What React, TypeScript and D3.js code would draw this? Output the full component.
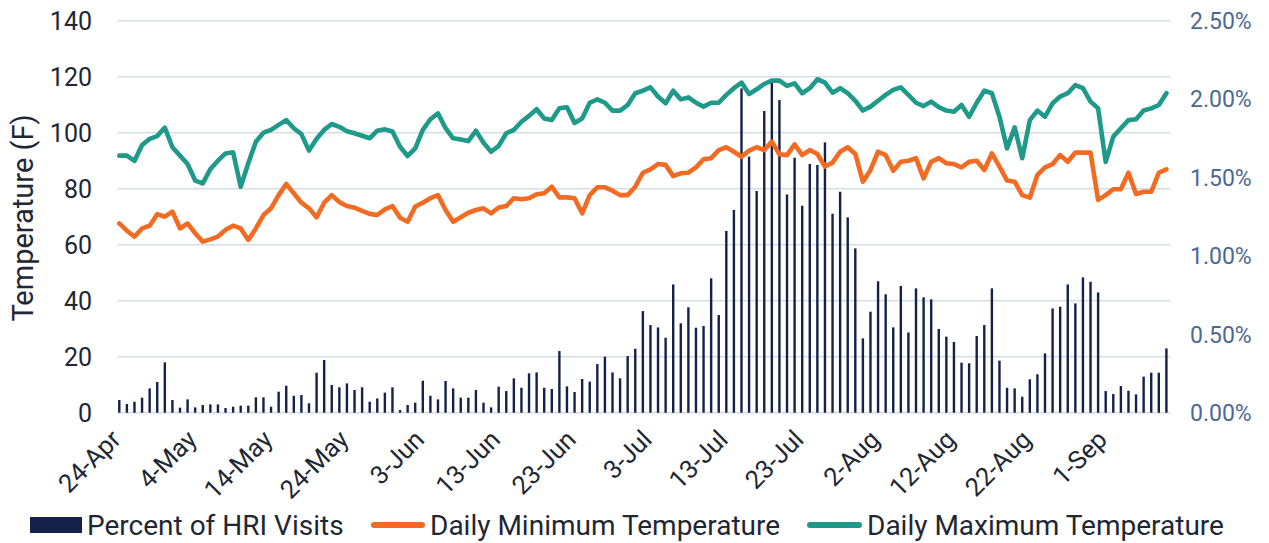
import React from "react";
import * as d3 from "d3";

// ---- DATA ----
const startDate = new Date(2023, 3, 24); // 24-Apr
const hriPct = [
  0.081, 0.055, 0.07, 0.096, 0.155, 0.196, 0.321, 0.081, 0.032, 0.085, 0.034, 0.049, 0.053, 0.053, 0.03,
  0.038, 0.045, 0.045, 0.098, 0.098, 0.038, 0.134, 0.172, 0.108, 0.113, 0.06, 0.255, 0.336, 0.177, 0.162,
  0.187, 0.145, 0.162, 0.07, 0.091, 0.128, 0.162, 0.017, 0.049, 0.064, 0.204, 0.108, 0.085, 0.202, 0.155,
  0.096, 0.096, 0.145, 0.064, 0.034, 0.166, 0.138, 0.219, 0.159, 0.251, 0.257, 0.159, 0.151, 0.393, 0.168,
  0.132, 0.215, 0.198, 0.31, 0.357, 0.257, 0.219, 0.361, 0.408, 0.648, 0.559, 0.544, 0.478, 0.818, 0.57,
  0.672, 0.542, 0.553, 0.857, 0.623, 1.159, 1.293, 2.068, 1.633, 1.414, 1.924, 2.105, 1.994, 1.392, 1.626,
  1.32, 1.586, 1.58, 1.724, 1.269, 1.409, 1.246, 1.048, 0.474, 0.644, 0.838, 0.755, 0.544, 0.808, 0.512,
  0.793, 0.736, 0.723, 0.534, 0.485, 0.451, 0.319, 0.315, 0.489, 0.559, 0.793, 0.332, 0.159, 0.155, 0.102,
  0.213, 0.245, 0.378, 0.665, 0.676, 0.818, 0.697, 0.863, 0.835, 0.767, 0.138, 0.119, 0.17, 0.14, 0.117,
  0.23, 0.255, 0.255, 0.41,
];
const maxTemp = [
  91.8, 91.8, 89.9, 95.6, 97.8, 98.8, 101.8, 94.8, 91.8, 88.8, 82.9, 81.9, 87.0, 90.0, 92.6,
  93.0, 80.7, 89.1, 96.8, 100.0, 101.0, 102.8, 104.5, 101.6, 99.5, 93.6, 97.8, 101.0, 103.1, 102.1,
  100.5, 99.8, 98.9, 98.0, 100.7, 101.2, 100.4, 95.0, 91.7, 94.4, 101.0, 104.8, 106.9, 101.6, 98.0,
  97.6, 97.0, 100.7, 96.4, 93.2, 95.3, 99.8, 101.0, 103.9, 106.0, 108.4, 105.1, 104.5, 108.7, 109.1,
  103.5, 105.1, 110.7, 111.9, 110.7, 107.9, 107.9, 109.9, 114.1, 115.0, 116.2, 112.9, 110.5, 115.0, 111.9,
  112.6, 110.7, 109.3, 110.7, 110.7, 113.5, 115.9, 117.9, 113.8, 115.5, 117.4, 118.6, 118.6, 116.7, 117.6,
  114.1, 115.9, 119.1, 117.9, 114.3, 115.9, 114.1, 111.4, 107.9, 109.3, 111.4, 113.5, 115.3, 116.2, 113.5,
  110.7, 109.5, 111.1, 109.1, 107.9, 107.5, 109.9, 105.7, 110.7, 115.0, 114.1, 105.7, 94.4, 101.9, 90.9,
  104.5, 107.9, 105.7, 110.5, 112.9, 114.1, 117.0, 115.9, 111.1, 108.7, 89.6, 98.6, 101.6, 104.5, 104.8,
  107.9, 108.7, 109.9, 114.1,
];
const minTemp = [
  67.6, 65.0, 62.9, 65.8, 66.8, 70.9, 70.0, 71.8, 65.8, 67.6, 64.1, 61.1, 61.9, 62.9, 65.3,
  66.8, 65.8, 61.7, 65.8, 70.6, 73.0, 77.7, 81.7, 78.4, 75.0, 73.0, 69.8, 75.0, 77.7, 75.2,
  73.8, 73.2, 72.1, 71.0, 70.6, 72.6, 73.8, 69.6, 68.2, 73.6, 75.0, 76.6, 77.7, 72.4, 68.2,
  69.8, 71.4, 72.4, 73.0, 71.2, 73.3, 73.8, 76.6, 76.2, 76.6, 78.0, 78.4, 80.7, 76.9, 76.9,
  76.6, 71.2, 77.7, 80.5, 80.5, 79.3, 77.7, 77.7, 80.7, 85.7, 86.9, 88.8, 88.5, 84.5, 85.5,
  85.7, 87.6, 90.5, 90.9, 93.8, 94.8, 93.2, 91.4, 93.6, 94.8, 93.8, 96.8, 92.3, 92.0, 95.8,
  92.0, 93.8, 92.4, 87.9, 89.3, 93.2, 94.8, 92.4, 82.5, 86.7, 93.2, 92.0, 86.4, 89.6, 90.0,
  90.9, 83.7, 89.6, 90.9, 89.1, 88.8, 87.6, 89.6, 90.0, 86.7, 92.6, 87.9, 82.9, 82.5, 77.7,
  76.8, 84.9, 87.6, 88.8, 92.0, 89.6, 92.9, 92.9, 92.9, 76.0, 77.7, 79.8, 79.8, 85.7, 78.1,
  78.9, 78.9, 85.7, 86.9,
];
const tempTicks = [0, 20, 40, 60, 80, 100, 120, 140];
const pctTicks = [0, 0.5, 1, 1.5, 2, 2.5];
const xTickLabels = [
  "24-Apr", "4-May", "14-May", "24-May", "3-Jun", "13-Jun", "23-Jun",
  "3-Jul", "13-Jul", "23-Jul", "2-Aug", "12-Aug", "22-Aug", "1-Sep",
];
const xTickStep = 10;
const seriesNames = ["Percent of HRI Visits", "Daily Minimum Temperature", "Daily Maximum Temperature"];

// ---- STYLE ----
const NAVY = "#15214A";
const ORANGE = "#F26B22";
const TEAL = "#1F9A8A";
const GRID = "#D6DDE7";
const TEXT = "#1E2733";
const RIGHT_TEXT = "#4B6993";
const FONT = "Roboto, 'Noto Sans', sans-serif";

export default function App() {
  const W = 1269, H = 543;
  const n = hriPct.length;
  const dates = d3.range(n).map((i) => d3.timeDay.offset(startDate, i));
  const x = d3.scaleLinear().domain([0, n - 1]).range([119.3, 1166.4]);
  const yT = d3.scaleLinear().domain([0, 140]).range([412.7, 20.7]);
  const yP = d3.scaleLinear().domain([0, 2.5]).range([412.7, 20.7]);
  const gridX0 = 117.5, gridX1 = 1170.5;
  const line = (arr: number[]) =>
    d3.line<number>().x((_, i) => x(i)).y((d) => yT(d))(arr) || "";
  const barW = 2.4;
  const pctFmt = (t: number) => t.toFixed(2) + "%";

  return (
    <svg width={W} height={H} style={{ position: "absolute", left: 0, top: 0, background: "#fff" }} fontFamily={FONT}>
      {/* grid */}
      {tempTicks.map((t) => (
        <line key={t} x1={gridX0} x2={gridX1} y1={yT(t)} y2={yT(t)} stroke={GRID} strokeWidth={1.5} />
      ))}
      {/* bars */}
      {hriPct.map((v, i) => (
        <rect key={i} x={x(i) - barW / 2} y={yP(v)} width={barW} height={yP(0) - yP(v)} fill={NAVY} />
      ))}
      {/* lines */}
      <path d={line(minTemp)} fill="none" stroke={ORANGE} strokeWidth={4.6} strokeLinejoin="round" strokeLinecap="round" />
      <path d={line(maxTemp)} fill="none" stroke={TEAL} strokeWidth={4.6} strokeLinejoin="round" strokeLinecap="round" />
      {/* left axis */}
      {tempTicks.map((t) => (
        <text key={t} x={92} y={yT(t)} dy="0.36em" textAnchor="end" fontSize={25} fill={TEXT}>
          {t}
        </text>
      ))}
      <text transform={`translate(33,${218}) rotate(-90)`} textAnchor="middle" fontSize={29} fill={TEXT}>
        Temperature (F)
      </text>
      {/* right axis */}
      {pctTicks.map((t) => (
        <text key={t} x={1190} y={yP(t)} dy="0.36em" textAnchor="start" fontSize={23} fill={RIGHT_TEXT}>
          {pctFmt(t)}
        </text>
      ))}
      {/* x labels */}
      {xTickLabels.map((lab, k) => {
        const i = k * xTickStep;
        return (
          <text key={lab} transform={`translate(${x(i) + 3},${441}) rotate(-45)`} textAnchor="end" fontSize={25.5} fill={TEXT}>
            {lab}
          </text>
        );
      })}
      {/* legend */}
      <g fontSize={28} fill={TEXT}>
        <rect x={30} y={517} width={52} height={16} fill={NAVY} />
        <text x={87} y={535}>{seriesNames[0]}</text>
        <line x1={374} x2={422} y1={525} y2={525} stroke={ORANGE} strokeWidth={6} strokeLinecap="round" />
        <text x={430} y={535}>{seriesNames[1]}</text>
        <line x1={810} x2={859} y1={525} y2={525} stroke={TEAL} strokeWidth={6} strokeLinecap="round" />
        <text x={867} y={535}>{seriesNames[2]}</text>
      </g>
      <desc>{dates.length}</desc>
    </svg>
  );
}
